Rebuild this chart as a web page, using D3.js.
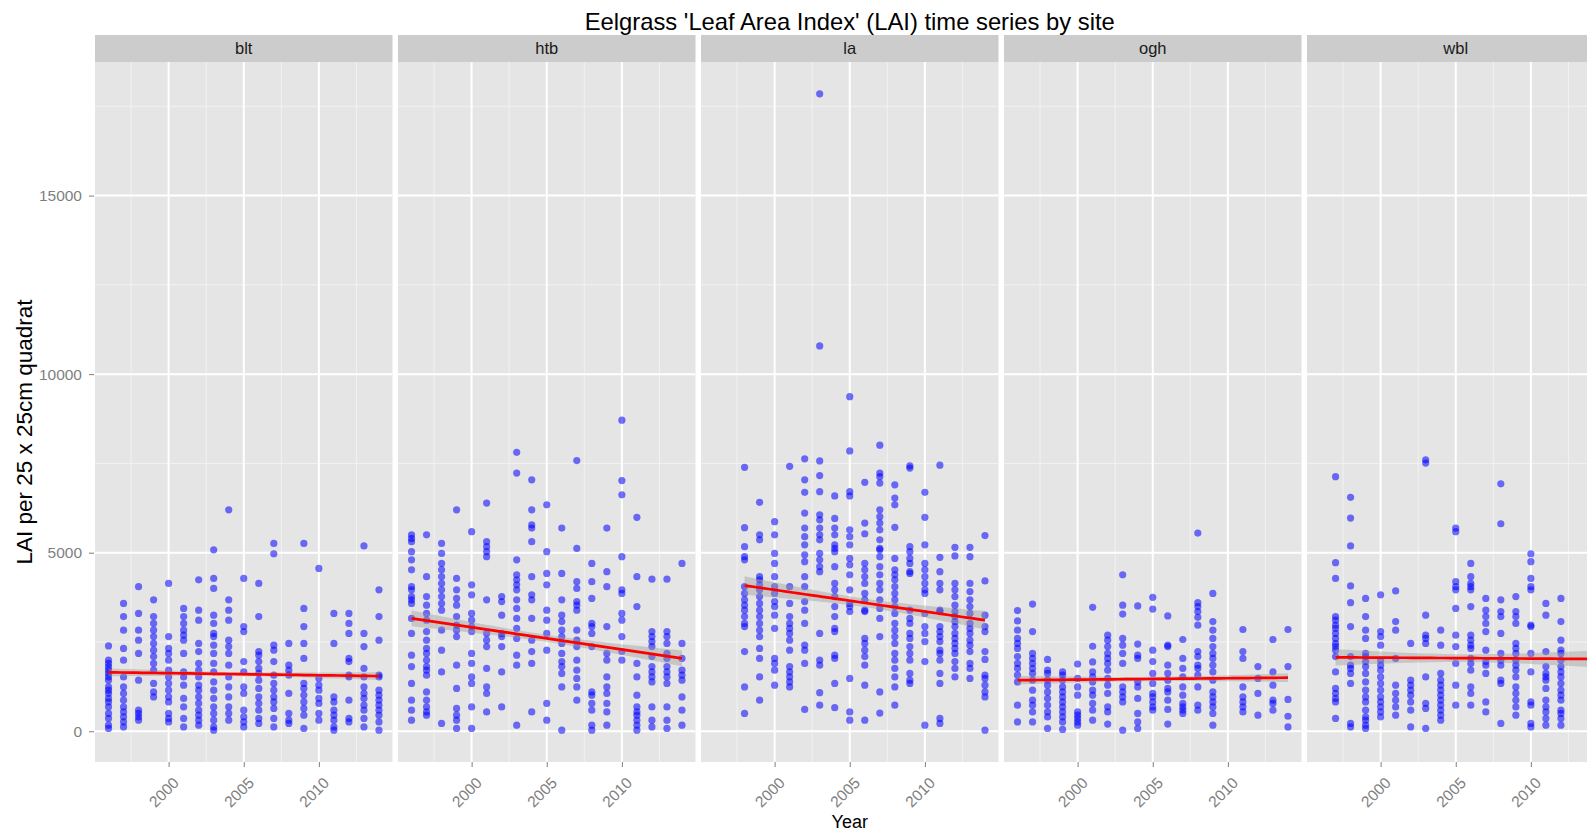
<!DOCTYPE html>
<html>
<head>
<meta charset="utf-8">
<script src="https://cdn.jsdelivr.net/npm/d3@7"></script>
<style>
  body { margin: 0; background: #fff; }
  text { font-family: "Liberation Sans", Arial, Helvetica, sans-serif; }
</style>
</head>
<body>
<div id="chart"></div>
<script>
// sites (facets) and the sampled years
var sites = ["blt", "htb", "la", "ogh", "wbl"];
var years = [1996, 1997, 1998, 1999, 2000, 2001, 2002, 2003, 2004, 2005,
             2006, 2007, 2008, 2009, 2010, 2011, 2012, 2013, 2014];

// LAI readings per site, one list per year (same order as years)
var blt = [
  [2390, 1990, 1900, 1800, 1710, 1620, 1520, 1430, 1240, 1150, 1060, 920, 820, 680, 500, 360, 170, 80],
  [3580, 3210, 2830, 2320, 1990, 1520, 1240, 1060, 870, 680, 540, 400, 260, 120],
  [4050, 3300, 2830, 2550, 2180, 1430, 590, 500, 400, 310],
  [3680, 3210, 3020, 2830, 2650, 2460, 2270, 2090, 1900, 1710, 1340, 1100, 960],
  [4140, 2650, 2320, 2180, 1990, 1710, 1520, 1340, 1150, 960, 820, 500, 360, 260],
  [3440, 3210, 3020, 2830, 2690, 2550, 2180, 1660, 1520, 1290, 920, 680, 360, 120],
  [4240, 3390, 3110, 2460, 2230, 1900, 1710, 1520, 1290, 1150, 960, 780, 590, 450, 310, 170],
  [5080, 4280, 4000, 3250, 3020, 2740, 2650, 2410, 2180, 1900, 1660, 1380, 1150, 920, 680, 500, 310, 120, 30],
  [6200, 3680, 3390, 3110, 2550, 2370, 2180, 1850, 1520, 1240, 960, 680, 500, 310],
  [4280, 2930, 2790, 1950, 1660, 1240, 1060, 590, 400, 260, 120],
  [4140, 3210, 2230, 2130, 1950, 1760, 1620, 1430, 1200, 960, 780, 590, 360, 220],
  [5260, 4970, 2410, 2270, 1950, 1570, 1340, 1150, 960, 820, 640, 360, 120],
  [2460, 1850, 1710, 1570, 1060, 500, 310, 220],
  [5260, 3440, 2930, 2460, 2040, 1340, 1200, 1010, 820, 640, 450, 80],
  [4560, 1480, 1290, 1150, 920, 780, 500, 310],
  [3300, 2460, 960, 820, 590, 450, 310, 120, 30],
  [3300, 3020, 2740, 2040, 1950, 1570, 1520, 870, 360, 260],
  [5190, 2740, 2370, 1760, 1520, 1240, 1060, 920, 730, 590, 360, 120],
  [3960, 3210, 2550, 1570, 1520, 1150, 1010, 870, 730, 590, 450, 260, 30]
];
var htb = [
  [5500, 5400, 5310, 5030, 4800, 4520, 4050, 3960, 3770, 3680, 3580, 3160, 2740, 2130, 1810, 1340, 870, 590, 310],
  [5500, 4330, 3770, 3530, 3300, 3110, 2790, 2550, 2320, 2180, 1990, 1810, 1710, 1570, 1100, 870, 680, 540, 450],
  [5260, 4980, 4700, 4520, 4330, 4140, 3960, 3770, 3580, 3390, 2830, 2270, 1660, 220],
  [6200, 4280, 3960, 3720, 3530, 3210, 2970, 2830, 2650, 1850, 1200, 640, 450, 310, 80],
  [5590, 4100, 3820, 3300, 3110, 2930, 2790, 2180, 1900, 1520, 1340, 680, 80],
  [6390, 5310, 5170, 5030, 4890, 3680, 2740, 2550, 2370, 1760, 1240, 1060, 540],
  [3770, 3630, 3250, 2740, 2650, 2370, 1660, 680],
  [7810, 7230, 4800, 4380, 4240, 4100, 3960, 3680, 3440, 3160, 2880, 2600, 2130, 1850, 170],
  [7040, 6200, 5780, 5690, 5310, 4330, 3820, 3680, 3160, 2550, 2230, 1900, 540],
  [6340, 5030, 4420, 4100, 3390, 3110, 2740, 2270, 780, 310],
  [5690, 4420, 3680, 3250, 3070, 2830, 2650, 2460, 2180, 1950, 1810, 1620, 1240, 30],
  [7580, 5120, 4190, 4000, 3630, 3530, 3390, 2830, 2550, 2370, 1990, 1710, 1480, 1240, 870],
  [4700, 4190, 3720, 3020, 2930, 2740, 2370, 1100, 1010, 780, 590, 170, 30],
  [5690, 4470, 4050, 2930, 2180, 1990, 1520, 1240, 1060, 780, 540, 170],
  [8710, 7020, 6620, 4890, 3960, 3860, 3300, 3110, 2650, 2230, 1990],
  [5990, 4330, 3490, 1900, 1520, 1010, 680, 540, 450, 310, 170, 30],
  [4260, 2790, 2650, 2510, 2370, 2090, 1810, 1660, 1520, 1380, 680, 310, 120],
  [4260, 2790, 2650, 2460, 2180, 2040, 1810, 1660, 1520, 1340, 680, 310, 80],
  [4700, 2460, 2040, 1710, 1570, 1430, 960, 590, 170]
];
var la = [
  [],
  [],
  [7390, 5700, 5170, 4890, 4800, 4050, 3860, 3680, 3530, 3390, 3210, 3020, 2930, 2230, 1240, 500],
  [6410, 5500, 5360, 4330, 4240, 4100, 3960, 3770, 3580, 3390, 3210, 3020, 2830, 2650, 2320, 2040, 1520, 870],
  [5870, 5500, 4980, 4700, 4330, 4050, 3860, 3630, 3490, 3250, 2880, 2040, 1900, 1710, 1290],
  [7420, 4050, 3580, 3210, 3020, 2880, 2740, 2550, 2270, 1810, 1660, 1520, 1380, 1240],
  [7630, 7040, 6690, 6110, 5690, 5450, 5220, 4940, 4750, 4330, 4050, 3630, 3390, 3020, 2410, 2270, 1900, 610],
  [17850, 10790, 7570, 7160, 6710, 6060, 5920, 5690, 5500, 5360, 4980, 4800, 4610, 4470, 2740, 1990, 1850, 1080, 730],
  [6590, 5960, 5690, 5500, 5220, 5120, 5030, 4610, 4140, 3960, 3770, 3490, 3210, 2880, 2790, 2130, 2040, 1340, 660],
  [9370, 7850, 6710, 6590, 5640, 5450, 5220, 4840, 4660, 4380, 3960, 3580, 3490, 3350, 1480, 540, 310],
  [6970, 5830, 5530, 4700, 4520, 4330, 4140, 3860, 3680, 3390, 3350, 2600, 2460, 2270, 2090, 1850, 1290, 310],
  [8010, 7230, 7130, 6950, 6200, 6010, 5830, 5640, 5360, 5120, 5080, 4890, 4610, 4380, 4140, 3960, 3680, 3440, 3160, 2650, 1100, 510],
  [6900, 6530, 6340, 5710, 4840, 4520, 4380, 4240, 4050, 3860, 3680, 3490, 3300, 3020, 2830, 2650, 2460, 2180, 1990, 1760, 1520, 1240, 730],
  [7430, 7370, 5170, 5030, 4840, 4700, 4470, 4420, 3390, 3160, 3020, 2740, 2600, 2370, 2180, 1990, 1620, 1430, 1340],
  [6690, 5990, 5220, 4700, 4520, 4330, 4140, 3960, 3860, 3300, 2930, 2740, 2510, 1950, 170],
  [7450, 4870, 4470, 4140, 3960, 3390, 3350, 2930, 2790, 2650, 2510, 2270, 2180, 1990, 1620, 1340, 360, 220],
  [5150, 4910, 4140, 3960, 3770, 3530, 3350, 3210, 3070, 2930, 2740, 2600, 2460, 2320, 2180, 1950, 1760, 1520],
  [5150, 4890, 4140, 3910, 3680, 3490, 3300, 3020, 2880, 2740, 2550, 2410, 2230, 1900, 1760, 1480],
  [5480, 4210, 3250, 2930, 2790, 2230, 2010, 1570, 1480, 1290, 1100, 960, 30]
];
var ogh = [
  [3380, 3090, 2830, 2600, 2460, 2320, 2090, 1900, 1760, 1570, 1380, 730, 260],
  [3560, 2790, 2180, 2040, 1900, 1760, 1620, 1430, 1150, 870, 730, 540, 260],
  [2010, 1710, 1620, 1430, 1290, 1100, 920, 730, 540, 400, 80],
  [1660, 1570, 1430, 1240, 1100, 960, 820, 680, 540, 400, 260, 50],
  [1880, 1480, 1240, 1010, 540, 450, 360, 260, 170],
  [3470, 2380, 1940, 1660, 1520, 1380, 1150, 1010, 780, 590, 310],
  [2690, 2550, 2370, 2180, 2040, 1900, 1710, 1480, 1290, 1060, 680, 540, 200],
  [4380, 3530, 3280, 2600, 2410, 2180, 1900, 1240, 1100, 960, 820, 30],
  [3510, 2440, 2130, 2040, 1380, 1240, 920, 500, 260, 80],
  [3750, 3420, 2270, 1950, 1620, 1340, 1060, 960, 820, 680, 590],
  [3230, 2410, 2370, 1850, 1620, 1430, 1200, 1100, 870, 610, 200],
  [2570, 2040, 1760, 1520, 1240, 1010, 780, 680, 590, 500],
  [5550, 3600, 3490, 3350, 3190, 2970, 2230, 2090, 1850, 1760, 1570, 1240, 730, 590],
  [3860, 3070, 2830, 2600, 2370, 2180, 2040, 1850, 1660, 1430, 1100, 960, 820, 680, 500, 170],
  [],
  [2850, 2230, 2040, 1240, 960, 820, 680, 540],
  [1810, 1480, 1060, 450],
  [2570, 1660, 1290, 870, 780, 590],
  [2850, 1810, 890, 420, 120]
];
var wbl = [
  [],
  [7130, 4720, 4280, 3210, 3110, 2970, 2880, 2740, 2600, 2460, 2370, 2270, 2090, 1660, 1200, 1060, 920, 820, 360],
  [6550, 5970, 5190, 4070, 3600, 2930, 2090, 1850, 1760, 1620, 1340, 220, 120],
  [3720, 3210, 2830, 2600, 2180, 2090, 1950, 1810, 1620, 1380, 1150, 960, 820, 590, 400, 310, 170, 80],
  [3820, 2790, 2650, 2410, 1990, 1850, 1710, 1520, 1340, 1150, 960, 820, 680, 540, 400],
  [3930, 3070, 2830, 2040, 1290, 1060, 870, 680, 450],
  [2460, 1430, 1290, 1150, 1010, 820, 590, 120],
  [7600, 7510, 3250, 2690, 2600, 2460, 1520, 780, 640, 80],
  [2830, 2410, 1620, 1430, 1290, 1150, 1010, 870, 730, 590, 450, 310],
  [5690, 5590, 4190, 4050, 3960, 3440, 2690, 2370, 1900, 1290, 730],
  [4700, 4330, 4140, 4050, 3960, 3490, 2690, 2550, 2410, 2320, 2040, 1900, 1710, 1240, 1060, 730],
  [3720, 3390, 3210, 3020, 2790, 2270, 1950, 1850, 1620, 820, 540],
  [6930, 5810, 3680, 3350, 3210, 2740, 2180, 1990, 1850, 1430, 1340, 220],
  [3770, 3350, 3210, 3020, 2460, 2320, 2180, 1990, 1850, 1710, 1520, 1240, 1060, 870, 680, 450],
  [4970, 4750, 4280, 4050, 3960, 2970, 2930, 2180, 1660, 820, 730, 220, 120],
  [3580, 3250, 2230, 1810, 1620, 1520, 1430, 1200, 870, 680, 540, 360, 170],
  [3720, 3070, 2550, 2270, 2180, 1990, 1810, 1660, 1520, 1340, 1150, 1010, 870, 590, 500, 360, 170],
  [],
  []
];
var siteData = [blt, htb, la, ogh, wbl];

// linear trend read off each facet: year span, fitted LAI at both ends,
// half width of the grey confidence band at the ends and in the middle
var fitFrom  = [1996, 1996, 1998, 1996, 1997];
var fitTo    = [2014, 2014, 2014, 2014, 2014];
var fitStart = [1650, 3160, 4080, 1430, 2070];
var fitEnd   = [1545, 2040, 3110, 1500, 2025];
var bandEnd  = [110, 220, 260, 120, 230];
var bandMid  = [55, 100, 120, 60, 110];

var yTicks = [0, 5000, 10000, 15000];
var xTicks = [2000, 2005, 2010];

// layout
var W = 1587, H = 832;
var left = 95, panelW = 297.5, gap = 5.5;
var stripTop = 35, stripH = 27;
var panelTop = stripTop + stripH, panelBottom = 762;

var svg = d3.select("#chart").append("svg")
    .attr("width", W)
    .attr("height", H);

// points flattened per site
var points = siteData.map(function(rows) {
  var out = [];
  rows.forEach(function(vals, i) {
    vals.forEach(function(v) { out.push({year: years[i], lai: v}); });
  });
  return out;
});

// shared scales with ggplot's 5% expansion
var allLai = [].concat.apply([], points).map(function(d) { return d.lai; });
var yExt = d3.extent(allLai), yr = yExt[1] - yExt[0];
var y = d3.scaleLinear()
    .domain([yExt[0] - 0.05 * yr, yExt[1] + 0.05 * yr])
    .range([panelBottom, panelTop]);

var xr = years[years.length - 1] - years[0];
var x = d3.scaleLinear()
    .domain([years[0] - 0.05 * xr, years[years.length - 1] + 0.05 * xr])
    .range([0, panelW]);

// minor grid halfway between major breaks
function minors(ticks, dom) {
  var step = ticks[1] - ticks[0], out = [];
  for (var v = ticks[0] - step / 2; v <= dom[1]; v += step) {
    if (v >= dom[0]) out.push(v);
  }
  return out;
}
var yMinor = minors(yTicks, y.domain());
var xMinor = minors(xTicks, x.domain());

// trend line + band (band widens away from the middle like an lm interval)
function trend(i) {
  var x0 = fitFrom[i], x1 = fitTo[i], c = (x0 + x1) / 2, h = (x1 - x0) / 2;
  return d3.range(0, 41).map(function(k) {
    var xv = x0 + (x1 - x0) * k / 40;
    var fit = fitStart[i] + (fitEnd[i] - fitStart[i]) * (xv - x0) / (x1 - x0);
    var u = (xv - c) / h;
    var hw = Math.sqrt(bandMid[i] * bandMid[i] + (bandEnd[i] * bandEnd[i] - bandMid[i] * bandMid[i]) * u * u);
    return {year: xv, fit: fit, lo: fit - hw, hi: fit + hw};
  });
}

sites.forEach(function(site, i) {
  var g = svg.append("g")
      .attr("transform", "translate(" + (left + i * (panelW + gap)) + ",0)");

  // strip
  g.append("rect")
      .attr("x", 0).attr("y", stripTop)
      .attr("width", panelW).attr("height", stripH)
      .attr("fill", "#cccccc");
  g.append("text")
      .attr("x", panelW / 2).attr("y", stripTop + stripH / 2)
      .attr("dy", "0.35em")
      .attr("text-anchor", "middle")
      .attr("font-size", 16.5)
      .attr("fill", "#1a1a1a")
      .text(site);

  // panel background
  g.append("rect")
      .attr("x", 0).attr("y", panelTop)
      .attr("width", panelW).attr("height", panelBottom - panelTop)
      .attr("fill", "#e5e5e5");

  g.append("clipPath").attr("id", "clip" + i)
    .append("rect")
      .attr("x", 0).attr("y", panelTop)
      .attr("width", panelW).attr("height", panelBottom - panelTop);

  var p = g.append("g").attr("clip-path", "url(#clip" + i + ")");

  // grid lines
  p.selectAll(".ymin").data(yMinor).enter().append("line")
      .attr("x1", 0).attr("x2", panelW)
      .attr("y1", y).attr("y2", y)
      .attr("stroke", "#f2f2f2").attr("stroke-width", 1);
  p.selectAll(".xmin").data(xMinor).enter().append("line")
      .attr("x1", x).attr("x2", x)
      .attr("y1", panelTop).attr("y2", panelBottom)
      .attr("stroke", "#f2f2f2").attr("stroke-width", 1);
  p.selectAll(".ymaj").data(yTicks).enter().append("line")
      .attr("x1", 0).attr("x2", panelW)
      .attr("y1", y).attr("y2", y)
      .attr("stroke", "#ffffff").attr("stroke-width", 2);
  p.selectAll(".xmaj").data(xTicks).enter().append("line")
      .attr("x1", x).attr("x2", x)
      .attr("y1", panelTop).attr("y2", panelBottom)
      .attr("stroke", "#ffffff").attr("stroke-width", 2);

  // points
  p.selectAll("circle").data(points[i]).enter().append("circle")
      .attr("cx", function(d) { return x(d.year); })
      .attr("cy", function(d) { return y(d.lai); })
      .attr("r", 3.6)
      .attr("fill", "#0000ff")
      .attr("fill-opacity", 0.55);

  // smooth
  var fit = trend(i);
  p.append("path")
      .datum(fit)
      .attr("fill", "#999999")
      .attr("fill-opacity", 0.4)
      .attr("d", d3.area()
        .x(function(d) { return x(d.year); })
        .y0(function(d) { return y(d.lo); })
        .y1(function(d) { return y(d.hi); }));
  p.append("path")
      .datum(fit)
      .attr("fill", "none")
      .attr("stroke", "#ff0000")
      .attr("stroke-width", 2.7)
      .attr("d", d3.line()
        .x(function(d) { return x(d.year); })
        .y(function(d) { return y(d.fit); }));

  // x axis
  var xa = g.append("g")
      .attr("transform", "translate(0," + panelBottom + ")")
      .call(d3.axisBottom(x).tickValues(xTicks).tickFormat(d3.format("d")).tickSize(5));
  xa.select(".domain").remove();
  xa.selectAll("line").attr("stroke", "#7f7f7f");
  xa.selectAll("text")
      .attr("x", 0).attr("y", 0).attr("dy", "0.35em")
      .attr("text-anchor", "end")
      .attr("transform", "translate(7,18) rotate(-45)")
      .attr("font-size", 15.5)
      .attr("font-family", "Liberation Sans, Arial, sans-serif")
      .attr("fill", "#7f7f7f");
});

// y axis on first facet
var ya = svg.append("g")
    .attr("transform", "translate(" + (left - 1) + ",0)")
    .call(d3.axisLeft(y).tickValues(yTicks).tickFormat(d3.format("d")).tickSize(5).tickPadding(7));
ya.select(".domain").remove();
ya.selectAll("line").attr("stroke", "#7f7f7f");
ya.selectAll("text")
    .attr("font-size", 15.5)
    .attr("font-family", "Liberation Sans, Arial, sans-serif")
    .attr("fill", "#7f7f7f");

// titles
var midX = left + (sites.length * panelW + (sites.length - 1) * gap) / 2;
svg.append("text")
    .attr("x", midX).attr("y", 29.5)
    .attr("text-anchor", "middle")
    .attr("font-size", 23.8)
    .attr("fill", "#000")
    .text("Eelgrass 'Leaf Area Index' (LAI) time series by site");

svg.append("text")
    .attr("x", midX).attr("y", 828)
    .attr("text-anchor", "middle")
    .attr("font-size", 18)
    .attr("fill", "#000")
    .text("Year");

svg.append("text")
    .attr("transform", "translate(32,432) rotate(-90)")
    .attr("text-anchor", "middle")
    .attr("font-size", 22.5)
    .attr("fill", "#000")
    .text("LAI per 25 x 25cm quadrat");
</script>
</body>
</html>
